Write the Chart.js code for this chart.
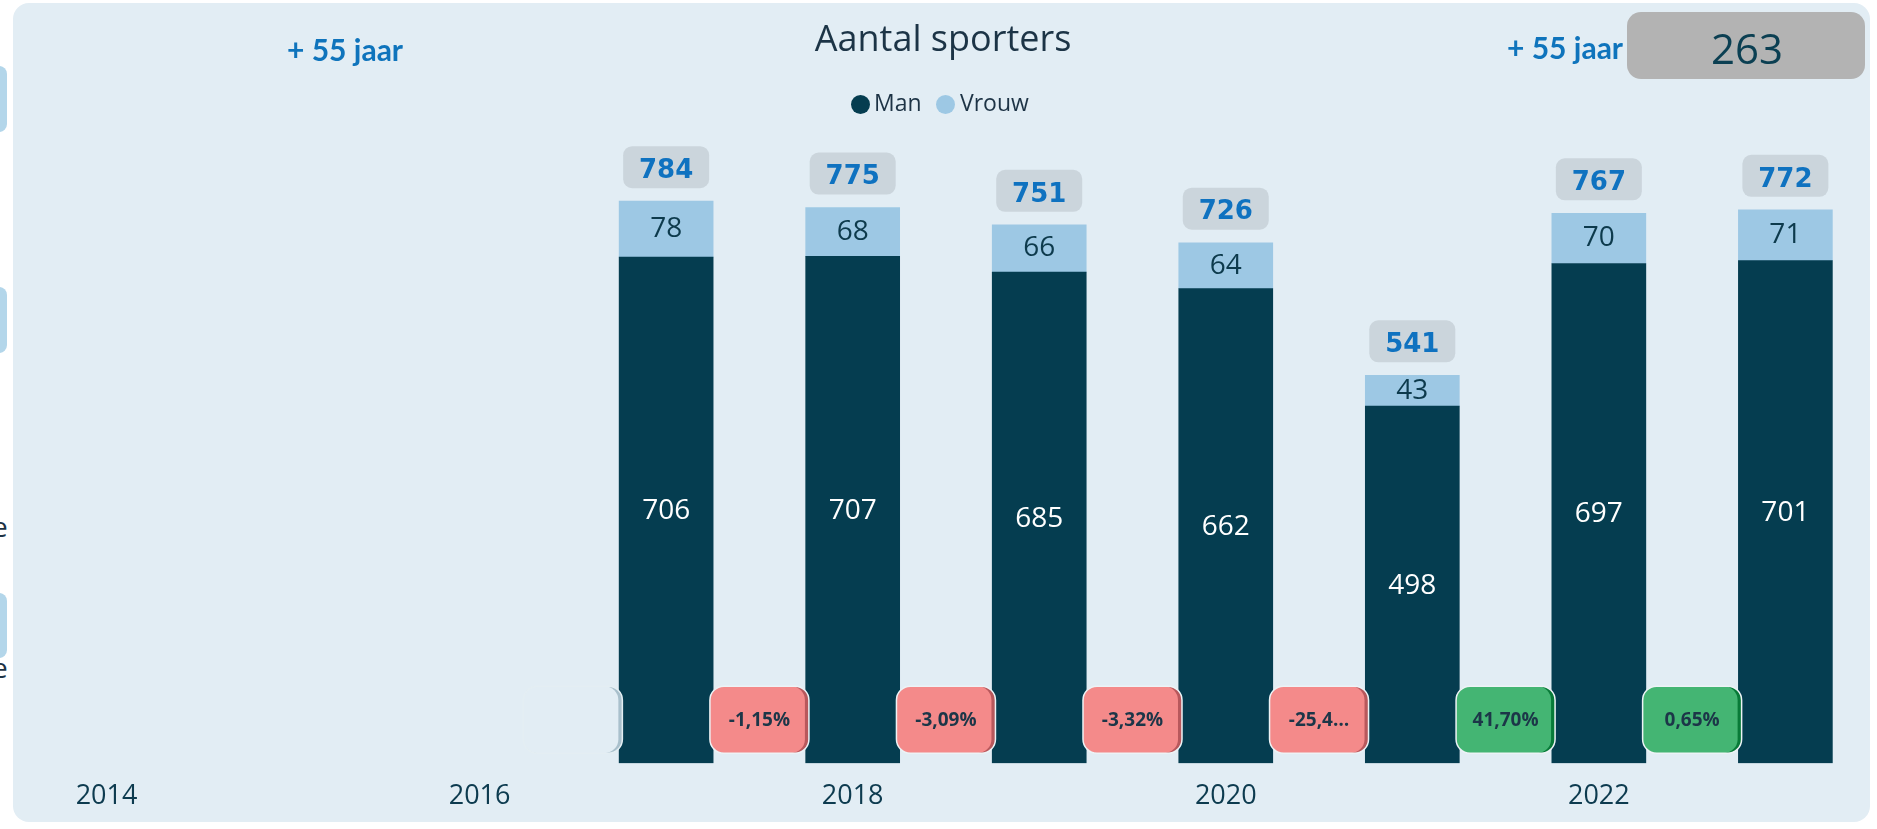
<!DOCTYPE html>
<html><head><meta charset="utf-8">
<script src="https://cdn.jsdelivr.net/npm/chart.js@4/dist/chart.umd.min.js"></script>
<style>
html,body{margin:0;padding:0;background:#fff;width:1877px;height:829px;overflow:hidden;font-family:"Open Sans",sans-serif}
#frame{position:absolute;left:13px;top:3px;width:1857px;height:819px;background:#e2edf4;border-radius:16px}
canvas{position:absolute;left:0;top:0}
.t{position:absolute;white-space:nowrap;line-height:1}
.side{position:absolute;left:-10px;width:17px;background:#b3d6ea;border-radius:8px}
</style></head>
<body>
<div class="side" style="top:66px;height:66px"></div>
<div class="side" style="top:287px;height:66px"></div>
<div class="side" style="top:593px;height:65px"></div>
<div class="t" style="left:-8px;top:512px;font-size:28px;color:#1d3345">e</div>
<div class="t" style="left:-8px;top:653px;font-size:28px;color:#1d3345">e</div>
<div id="frame"></div>
<canvas id="c" width="1877" height="829"></canvas>
<div class="t" id="title" style="left:943px;top:20px;font-size:36px;color:#1c3446;transform:translateX(-50%)">Aantal sporters</div>
<div class="t" style="left:287px;top:34px;font-family:Lato;font-weight:700;font-size:30px;color:#0f74bc">+ 55 jaar</div>
<div class="t" style="left:1507px;top:32px;font-family:Lato;font-weight:700;font-size:30px;color:#0f74bc">+ 55 jaar</div>
<div style="position:absolute;left:1627px;top:12px;width:238px;height:67px;background:#b3b3b3;border-radius:14px"></div>
<div class="t" style="left:1747px;top:27px;font-size:42px;color:#0b3f52;transform:translateX(-50%)">263</div>
<div style="position:absolute;left:850.5px;top:94.5px;width:19px;height:19px;border-radius:50%;background:#053d50"></div>
<div class="t" style="left:874px;top:91px;font-size:23px;color:#1d3345">Man</div>
<div style="position:absolute;left:936px;top:94.5px;width:19px;height:19px;border-radius:50%;background:#9dc8e4"></div>
<div class="t" style="left:960px;top:91px;font-size:23px;color:#1d3345">Vrouw</div>
<script>
const years = [2017, 2018, 2019, 2020, 2021, 2022, 2023];
const manValues = [706, 707, 685, 662, 498, 697, 701];
const vrouwValues = [78, 68, 66, 64, 43, 70, 71];
const totalValues = [784, 775, 751, 726, 541, 767, 772];
const changeLabels = ["", "-1,15%", "-3,09%", "-3,32%", "-25,4…", "41,70%", "0,65%"];
const tickYears = [2014, 2016, 2018, 2020, 2022];

const labelPlugin = {
  id: 'labels',
  afterDatasetsDraw(chart) {
    const ctx = chart.ctx, xs = chart.scales.x, ys = chart.scales.y, area = chart.chartArea;
    ctx.save();
    ctx.textAlign = 'center';
    ctx.textBaseline = 'middle';
    ctx.font = '28px "Open Sans"';
    years.forEach((yr, i) => {
      const x = xs.getPixelForValue(yr);
      const yManTop = ys.getPixelForValue(manValues[i]);
      const yBase = ys.getPixelForValue(0);
      const yTop = ys.getPixelForValue(manValues[i] + vrouwValues[i]);
      ctx.fillStyle = '#ffffff';
      ctx.fillText(String(manValues[i]), x, (yManTop + yBase) / 2 + 1);
      ctx.fillStyle = '#0d3a4c';
      ctx.fillText(String(vrouwValues[i]), x, (yManTop + yTop) / 2);
    });
    years.forEach((yr, i) => {
      const x = xs.getPixelForValue(yr);
      const yT = ys.getPixelForValue(totalValues[i]);
      const w = 86, h = 42;
      ctx.beginPath();
      ctx.roundRect(x - w / 2, yT - 13 - h, w, h, 9);
      ctx.fillStyle = '#cbd5dc';
      ctx.fill();
      ctx.font = 'bold 26px "DejaVu Sans"';
      ctx.fillStyle = '#0f72c0';
      ctx.fillText(String(totalValues[i]), x, yT - 13 - h / 2 + 4);
    });
    years.forEach((yr, i) => {
      const cx = xs.getPixelForValue(yr - 0.5);
      const cy = area.bottom - 43.5;
      const w = 99, h = 67, r = 14, x = cx - w / 2, y = cy - h / 2;
      const lab = changeLabels[i];
      let fill = '#e2edf4', edge = '#a9c0cc', border = '#e4eef3';
      if (lab) {
        const neg = lab.startsWith('-');
        fill = neg ? '#f48a8a' : '#44b573';
        edge = neg ? '#b8585c' : '#087a38';
        border = '#edf3f6';
      }
      ctx.beginPath(); ctx.roundRect(x, y, w, h, r); ctx.fillStyle = edge; ctx.fill();
      ctx.beginPath(); ctx.roundRect(x, y, w - 4, h, r); ctx.fillStyle = fill; ctx.fill();
      ctx.beginPath(); ctx.roundRect(x, y, w, h, r); ctx.strokeStyle = border; ctx.lineWidth = 1.5; ctx.stroke();
      if (lab) {
        ctx.font = 'bold 19px "Open Sans"';
        ctx.fillStyle = '#1c3648';
        ctx.fillText(lab, cx, cy + 1);
      }
    });
    ctx.restore();
  }
};

function build() {
  new Chart(document.getElementById('c'), {
    type: 'bar',
    data: {
      datasets: [
        { label: 'Man', data: years.map((y, i) => ({ x: y, y: manValues[i] })), backgroundColor: '#053d50', borderWidth: 0, barThickness: 94 },
        { label: 'Vrouw', data: years.map((y, i) => ({ x: y, y: vrouwValues[i] })), backgroundColor: '#9dc8e4', borderWidth: 0, barThickness: 94 }
      ]
    },
    options: {
      responsive: false,
      animation: false,
      devicePixelRatio: 1,
      layout: { padding: { left: 13.25, right: 17, top: 118, bottom: 8.4 } },
      plugins: { legend: { display: false }, title: { display: false }, tooltip: { enabled: false } },
      scales: {
        x: {
          type: 'linear', stacked: true, offset: false,
          min: 2013.5, max: 2023.4,
          grid: { display: false, offset: false }, border: { display: false },
          afterBuildTicks: (s) => { s.ticks = tickYears.map(v => ({ value: v })); },
          ticks: { padding: 8.5, maxRotation: 0, autoSkip: false, color: '#0d3b4f', font: { family: 'Open Sans', size: 27 }, callback: (v) => String(v) }
        },
        y: { stacked: true, display: false, min: 0, max: 900 }
      }
    },
    plugins: [labelPlugin]
  });
}
Promise.all([
  document.fonts.load('28px "Open Sans"'),
  document.fonts.load('bold 19px "Open Sans"'),
  document.fonts.load('bold 26px "DejaVu Sans"')
]).then(build, build);
</script>
</body></html>
